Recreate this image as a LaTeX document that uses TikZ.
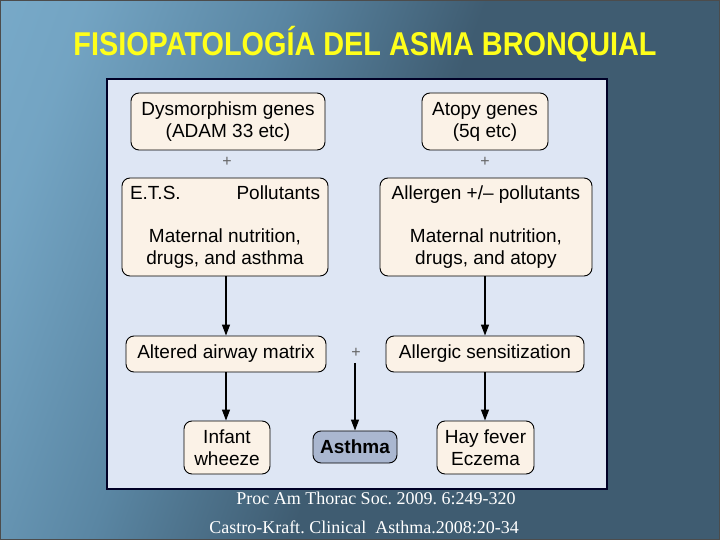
\documentclass[tikz,border=0pt]{standalone}
\usepackage{fontspec}
\setmainfont{Liberation Sans}
\newfontfamily\citefont{Liberation Serif}
\usetikzlibrary{arrows.meta}
\frenchspacing
\definecolor{bgL}{HTML}{84B8D8}
\definecolor{bgM}{HTML}{5A86A3}
\definecolor{bgD}{HTML}{3F5C71}
\definecolor{panel}{HTML}{DEE6F4}
\definecolor{boxfill}{HTML}{FBF2E7}
\definecolor{asthfill}{HTML}{AAB7D0}
\definecolor{titleyellow}{HTML}{FFFF1A}
\pgfdeclarehorizontalshading{bgsh}{100bp}{color(0bp)=(bgL); color(24bp)=(bgL!60!bgM); color(38bp)=(bgM); color(52bp)=(bgD); color(100bp)=(bgD)}
\tikzset{
  box/.style={draw=black, line width=0.9pt, rounded corners=8pt, fill=boxfill,
    align=center, inner sep=0pt, font=\fontsize{19}{22}\selectfont},
  plussign/.style={text=black!60, font=\fontsize{16}{16}\selectfont, inner sep=0pt},
  arr/.style={line width=1.3pt, -{Triangle[length=11pt,width=8pt]}},
  cite/.style={text=white, font=\citefont\fontsize{18}{20}\selectfont, inner sep=0pt}
}
\begin{document}
\begin{tikzpicture}[x=1pt,y=-1pt]
\useasboundingbox (0,0) rectangle (720,540);
\shade[shading=bgsh, shading angle=-20] (0,0) rectangle (720,540);
\draw[black!70, line width=1pt] (0.5,0.5) rectangle (719.5,539.5);
% title
\node[text=titleyellow, font=\bfseries\fontsize{33}{36}\selectfont, xscale=0.874, inner sep=0pt] (title) at (365,44) {FISIOPATOLOGÍA DEL ASMA BRONQUIAL};
% panel
\draw[fill=panel, draw=black!85!blue, line width=1.2pt] (107,79) rectangle (607,489);
% boxes
\node[box, minimum width=194pt, minimum height=57pt] (dys) at (228,121.5) {Dysmorphism genes\\(ADAM 33 etc)};
\node[box, minimum width=126pt, minimum height=57pt] (atopy) at (485,121.5) {Atopy genes\\(5q etc)};
\node[plussign] (p1) at (227,162) {+};
\node[plussign] (p2) at (485,162) {+};
\node[box, minimum width=206pt, minimum height=98pt] (L) at (225,227)
  {\makebox[190pt]{E.T.S.\hfill Pollutants}\\[21pt]Maternal nutrition,\\drugs, and asthma};
\node[box, minimum width=212pt, minimum height=98pt] (R) at (486,227)
  {Allergen +/– pollutants\\[21pt]Maternal nutrition,\\drugs, and atopy};
\node[box, minimum width=200pt, minimum height=36pt] (alt) at (226,354) {Altered airway matrix};
\node[box, minimum width=198pt, minimum height=36pt] (all) at (485,354) {Allergic sensitization};
\node[plussign] (p3) at (356,353) {+};
\node[box, minimum width=86pt, minimum height=53pt] (inf) at (227,447.5) {Infant\\wheeze};
\node[box, fill=asthfill, minimum width=84pt, minimum height=32pt, font=\bfseries\fontsize{19}{22}\selectfont] (ast) at (355,447) {Asthma};
\node[box, minimum width=97pt, minimum height=53pt] (hay) at (485.5,447.5) {Hay fever\\Eczema};
% arrows
\draw[arr] (L.south -| alt.north) -- (alt.north);
\draw[arr] (alt.south) -- (alt.south |- inf.north);
\draw[arr] (R.south -| all.north) -- (all.north);
\draw[arr] (all.south) -- (all.south |- hay.north);
\draw[arr] ([yshift=-5pt]p3.south -| ast.north) -- (ast.north);
% citations
\node[cite] (c1) at (376,498) {Proc Am Thorac Soc. 2009. 6:249-320};
\node[cite] (c2) at (364,527) {Castro-Kraft. Clinical\ \ Asthma.2008:20-34};
\end{tikzpicture}
\end{document}
